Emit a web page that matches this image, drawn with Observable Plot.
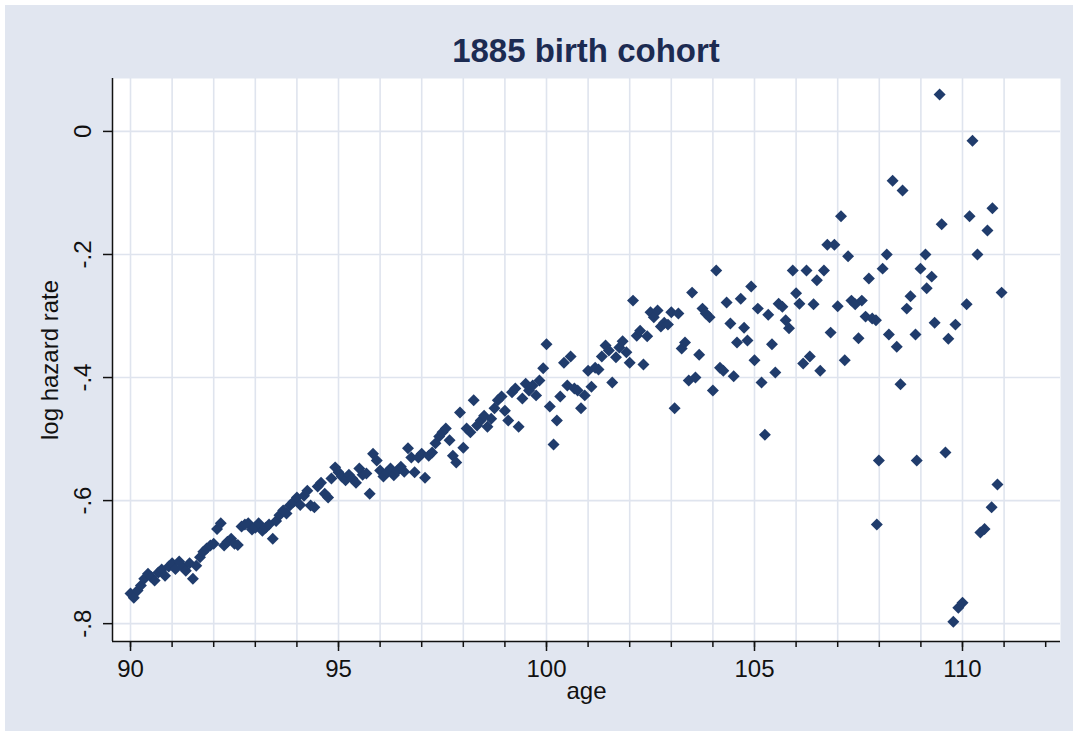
<!DOCTYPE html>
<html>
<head>
<meta charset="utf-8">
<script src="https://cdn.jsdelivr.net/npm/d3@7"></script>
<script src="https://cdn.jsdelivr.net/npm/@observablehq/plot@0.6"></script>
<style>
  html, body { margin: 0; padding: 0; background: #ffffff; }
  #chart {
    position: absolute; left: 5px; top: 5px; width: 1068px; height: 726px;
    background: #e1e6f0; font-family: "Liberation Sans", Arial, sans-serif;
  }
  #title {
    margin-left: 107px; width: 948px; height: 40px; padding-top: 28px;
    font-size: 33px; line-height: 35px; font-weight: bold; text-align: center; color: #1c2b52;
  }
  #plot svg { display: block; }
</style>
</head>
<body>
<div id="chart">
  <div id="title">1885 birth cohort</div>
  <div id="plot"></div>
</div>
<script>
// ---- data ----
const ages = [
  90.00, 90.08, 90.17, 90.25, 90.33, 90.42, 90.50, 90.58, 90.67, 90.75, 90.83, 90.92,
  91.00, 91.08, 91.17, 91.25, 91.33, 91.42, 91.50, 91.58, 91.67, 91.75, 91.83, 91.92,
  92.00, 92.08, 92.17, 92.25, 92.33, 92.42, 92.50, 92.58, 92.67, 92.75, 92.83, 92.92,
  93.00, 93.08, 93.17, 93.25, 93.33, 93.42, 93.50, 93.58, 93.67, 93.75, 93.83, 93.92,
  94.00, 94.08, 94.17, 94.25, 94.33, 94.42, 94.50, 94.58, 94.67, 94.75, 94.83, 94.92,
  95.00, 95.08, 95.17, 95.25, 95.33, 95.42, 95.50, 95.58, 95.67, 95.75, 95.83, 95.92,
  96.00, 96.08, 96.17, 96.25, 96.33, 96.42, 96.50, 96.58, 96.67, 96.75, 96.83, 96.92,
  97.00, 97.08, 97.17, 97.25, 97.33, 97.42, 97.50, 97.58, 97.67, 97.75, 97.83, 97.92,
  98.00, 98.08, 98.17, 98.25, 98.33, 98.42, 98.50, 98.58, 98.67, 98.75, 98.83, 98.92,
  99.00, 99.08, 99.17, 99.25, 99.33, 99.42, 99.50, 99.58, 99.67, 99.75, 99.83, 99.92,
  100.00, 100.08, 100.17, 100.25, 100.33, 100.42, 100.50, 100.58, 100.67, 100.75, 100.83, 100.92,
  101.00, 101.08, 101.17, 101.25, 101.33, 101.42, 101.50, 101.58, 101.67, 101.75, 101.83, 101.92,
  102.00, 102.08, 102.17, 102.25, 102.33, 102.42, 102.50, 102.58, 102.67, 102.75, 102.83, 102.92,
  103.00, 103.08, 103.17, 103.25, 103.33, 103.42, 103.50, 103.58, 103.67, 103.75, 103.83, 103.92,
  104.00, 104.08, 104.17, 104.25, 104.33, 104.42, 104.50, 104.58, 104.67, 104.75, 104.83, 104.92,
  105.00, 105.08, 105.17, 105.25, 105.33, 105.42, 105.50, 105.58, 105.67, 105.75, 105.83, 105.92,
  106.00, 106.08, 106.17, 106.25, 106.33, 106.42, 106.50, 106.58, 106.67, 106.75, 106.83, 106.92,
  107.00, 107.08, 107.17, 107.25, 107.33, 107.42, 107.50, 107.58, 107.67, 107.75, 107.83, 107.92,
  107.94, 107.99, 108.08, 108.18, 108.23, 108.32, 108.42, 108.51, 108.56, 108.66, 108.75, 108.87,
  108.90, 108.99, 109.11, 109.14, 109.26, 109.33, 109.45, 109.50, 109.59, 109.66, 109.78, 109.83,
  109.90, 110.00, 110.10, 110.17, 110.24, 110.36, 110.43, 110.53, 110.60, 110.70, 110.72, 110.84,
  110.94
];
const logHazard = [
  -0.751, -0.758, -0.746, -0.738, -0.727, -0.719, -0.724, -0.730, -0.717, -0.712, -0.722, -0.707,
  -0.702, -0.711, -0.699, -0.707, -0.714, -0.702, -0.727, -0.706, -0.692, -0.683, -0.678, -0.673,
  -0.670, -0.646, -0.637, -0.673, -0.667, -0.662, -0.670, -0.672, -0.642, -0.639, -0.637, -0.647,
  -0.644, -0.637, -0.649, -0.644, -0.639, -0.662, -0.633, -0.624, -0.616, -0.621, -0.608, -0.602,
  -0.595, -0.607, -0.592, -0.584, -0.608, -0.611, -0.577, -0.571, -0.589, -0.595, -0.564, -0.546,
  -0.554, -0.561, -0.567, -0.558, -0.564, -0.571, -0.548, -0.558, -0.556, -0.589, -0.524, -0.535,
  -0.551, -0.561, -0.554, -0.548, -0.559, -0.551, -0.545, -0.553, -0.515, -0.530, -0.554, -0.530,
  -0.524, -0.563, -0.527, -0.522, -0.507, -0.496, -0.489, -0.483, -0.502, -0.527, -0.538, -0.457,
  -0.514, -0.483, -0.489, -0.437, -0.478, -0.470, -0.462, -0.480, -0.467, -0.450, -0.437, -0.431,
  -0.454, -0.470, -0.424, -0.418, -0.480, -0.434, -0.410, -0.421, -0.413, -0.429, -0.405, -0.385,
  -0.346, -0.447, -0.509, -0.470, -0.431, -0.376, -0.413, -0.366, -0.418, -0.421, -0.450, -0.429,
  -0.389, -0.415, -0.384, -0.387, -0.366, -0.348, -0.356, -0.408, -0.367, -0.351, -0.341, -0.359,
  -0.376, -0.275, -0.332, -0.324, -0.379, -0.333, -0.294, -0.302, -0.291, -0.317, -0.311, -0.314,
  -0.294, -0.450, -0.296, -0.353, -0.343, -0.405, -0.262, -0.400, -0.363, -0.288, -0.296, -0.302,
  -0.421, -0.226, -0.384, -0.389, -0.278, -0.312, -0.398, -0.343, -0.272, -0.319, -0.340, -0.252,
  -0.372, -0.288, -0.408, -0.493, -0.298, -0.346, -0.392, -0.280, -0.285, -0.307, -0.320, -0.226,
  -0.263, -0.280, -0.377, -0.226, -0.366, -0.281, -0.242, -0.389, -0.226, -0.184, -0.327, -0.184,
  -0.284, -0.138, -0.372, -0.203, -0.275, -0.281, -0.336, -0.275, -0.301, -0.239, -0.304, -0.307,
  -0.639, -0.535, -0.223, -0.200, -0.330, -0.080, -0.350, -0.411, -0.096, -0.288, -0.268, -0.330,
  -0.535, -0.223, -0.200, -0.255, -0.236, -0.311, 0.060, -0.151, -0.522, -0.337, -0.797, -0.314,
  -0.774, -0.766, -0.281, -0.138, -0.015, -0.200, -0.652, -0.646, -0.161, -0.611, -0.125, -0.574,
  -0.262
];
const xMajorTicks = [90, 95, 100, 105, 110];
const xMinorTicks = [90, 91, 92, 93, 94, 95, 96, 97, 98, 99, 100, 101, 102, 103, 104, 105, 106, 107, 108, 109, 110, 111, 112];
const xGridLines = [90, 91, 92, 93, 94, 95, 96, 97, 98, 99, 100, 101, 102, 103, 104, 105, 106, 107, 108, 109, 110, 111];
const yTicks = [0, -0.2, -0.4, -0.6, -0.8];
const yTickLabels = ["0", "-.2", "-.4", "-.6", "-.8"];
const xTitle = "age";
const yTitle = "log hazard rate";

// ---- chart ----
const n = Math.min(ages.length, logHazard.length);
const points = d3.range(n).map(i => ({age: ages[i], logHazard: logHazard[i]}));

const xDomain = [89.567, 112.356];
const yDomain = [-0.829, 0.086];
const navy = "#203c6c";
const gridColor = "#dfe4ee";
const ink = "#111111";

const chart = Plot.plot({
  width: 1068,
  height: 658,
  marginLeft: 107,
  marginRight: 13,
  marginTop: 5,
  marginBottom: 90,
  style: {background: "transparent", fontFamily: "'Liberation Sans', Arial, sans-serif", fontSize: "24px", color: ink},
  x: {domain: xDomain},
  y: {domain: yDomain},
  marks: [
    Plot.frame({fill: "white", stroke: "none"}),
    Plot.gridX(xGridLines, {stroke: gridColor, strokeOpacity: 1, strokeWidth: 1.6}),
    Plot.gridY(yTicks, {stroke: gridColor, strokeOpacity: 1, strokeWidth: 1.6}),
    Plot.dot(points, {x: "age", y: "logHazard", symbol: "diamond2", r: 5.4, fill: navy, stroke: "none"}),
    Plot.ruleX([xDomain[0]], {stroke: ink, strokeWidth: 1.5}),
    Plot.ruleY([yDomain[0]], {stroke: ink, strokeWidth: 1.5}),
    Plot.axisX(xMinorTicks, {tickSize: 6, fill: "none", stroke: ink, strokeWidth: 1.5, label: null}),
    Plot.axisX(xMajorTicks, {tickSize: 10, tickPadding: 8, fontSize: 24, stroke: ink, strokeWidth: 1.5, fill: ink, label: null, tickFormat: d => String(d)}),
    Plot.axisY(yTicks, {tickSize: 9, fill: "none", stroke: ink, strokeWidth: 1.5, label: null}),
    Plot.text(yTicks, {y: d => d, text: (d, i) => yTickLabels[i], frameAnchor: "left", dx: -29, rotate: -90, fontSize: 24, fill: ink, textAnchor: "middle", lineAnchor: "middle"}),
    Plot.text([yTitle], {text: d => d, frameAnchor: "left", dx: -62, rotate: -90, fontSize: 24, fill: ink, textAnchor: "middle", lineAnchor: "middle"}),
    Plot.text([xTitle], {text: d => d, frameAnchor: "bottom", dy: 50, fontSize: 24, fill: ink, textAnchor: "middle", lineAnchor: "middle"})
  ]
});
document.getElementById("plot").appendChild(chart);
</script>
</body>
</html>
